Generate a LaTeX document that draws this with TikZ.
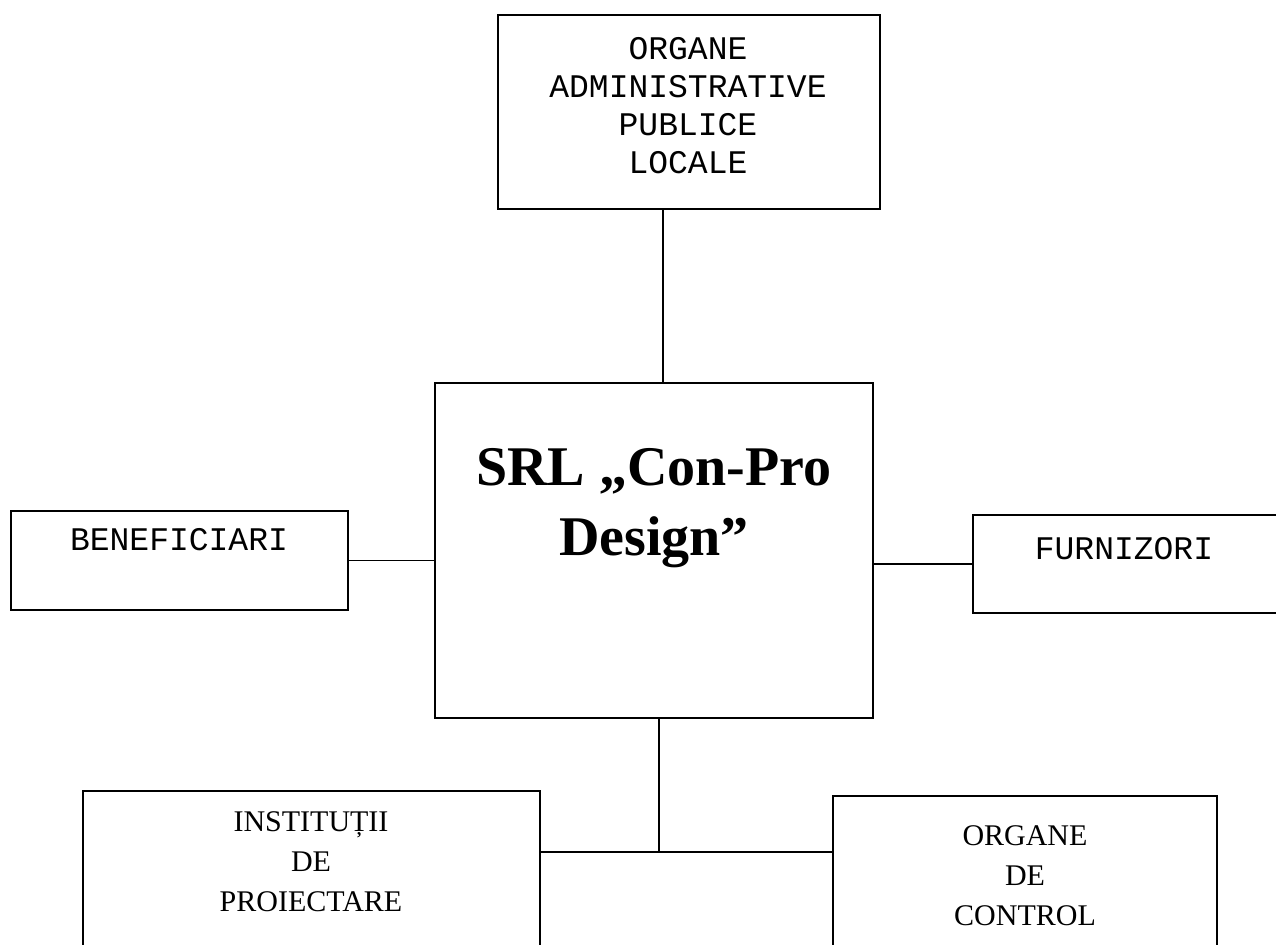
\documentclass[tikz,border=0pt]{standalone}
\usepackage{fontspec}
\setmainfont{Liberation Serif}
\newfontfamily\masina{Liberation Mono}
\usetikzlibrary{positioning}
\tikzset{
    %Define style for boxes
    cutie/.style={
           rectangle,
           draw=black, line width=0.8pt,
           inner sep=0pt},
    %Define styles for texts
    masinal/.style={
           align=center, inner sep=0pt,
           font=\masina\fontsize{16.5pt}{19pt}\selectfont},
    tipar/.style={
           align=center, inner sep=0pt,
           font=\fontsize{15pt}{20pt}\selectfont},
    titlu/.style={
           align=center, inner sep=0pt,
           font=\bfseries\fontsize{28pt}{35pt}\selectfont},
    % Define line style
    leg/.style={
           line width=0.8pt}
}

\begin{document}
\begin{tikzpicture}[x=0.5pt,y=-0.5pt]
\useasboundingbox (0,0) rectangle (1276,944);
\clip (0,0) rectangle (1276,944);
% boxes
\node[cutie, minimum width=191pt, minimum height=97pt] (admin) at (689,112) {};
\node[cutie, minimum width=219pt, minimum height=167.5pt] (firma) at (654,550.5) {};
\node[cutie, minimum width=168.5pt, minimum height=49.5pt] (benef) at (179.5,560.5) {};
\node[cutie, minimum width=158.5pt, minimum height=49pt] (furniz) at (1131.5,564) {};
\node[cutie, minimum width=228.5pt, minimum height=84.5pt] (proiect) at (311.5,875.5) {};
\node[cutie, minimum width=192pt, minimum height=82pt] (control) at (1025,878) {};
% texts
\node[masinal] (admintext) at (688,106) {ORGANE\\ADMINISTRATIVE\\PUBLICE\\LOCALE};
\node[titlu] (firmatext) at (654,508) {SRL „Con-Pro\\Design”};
\node[masinal] (beneftext) at (179,540) {BENEFICIARI};
\node[masinal] (furniztext) at (1124,549) {FURNIZORI};
\node[tipar] (proiecttext) at (311,862) {INSTITUȚII\\DE\\PROIECTARE};
\node[tipar] (controltext) at (1025,876) {ORGANE\\DE\\CONTROL};
% links
\coordinate (nod) at (659,852);
\draw[leg] ([xshift=-13pt]admin.south) -- ([xshift=-13pt]admin.south |- firma.north);
\draw[leg] (benef.east) -- (benef.east -| firma.west);
\draw[leg] (furniz.west) -- (furniz.west -| firma.east);
\draw[leg] (firma.south -| nod) -- (nod);
\draw[leg] (nod -| proiect.east) -- (nod -| control.west);
\end{tikzpicture}
\end{document}
